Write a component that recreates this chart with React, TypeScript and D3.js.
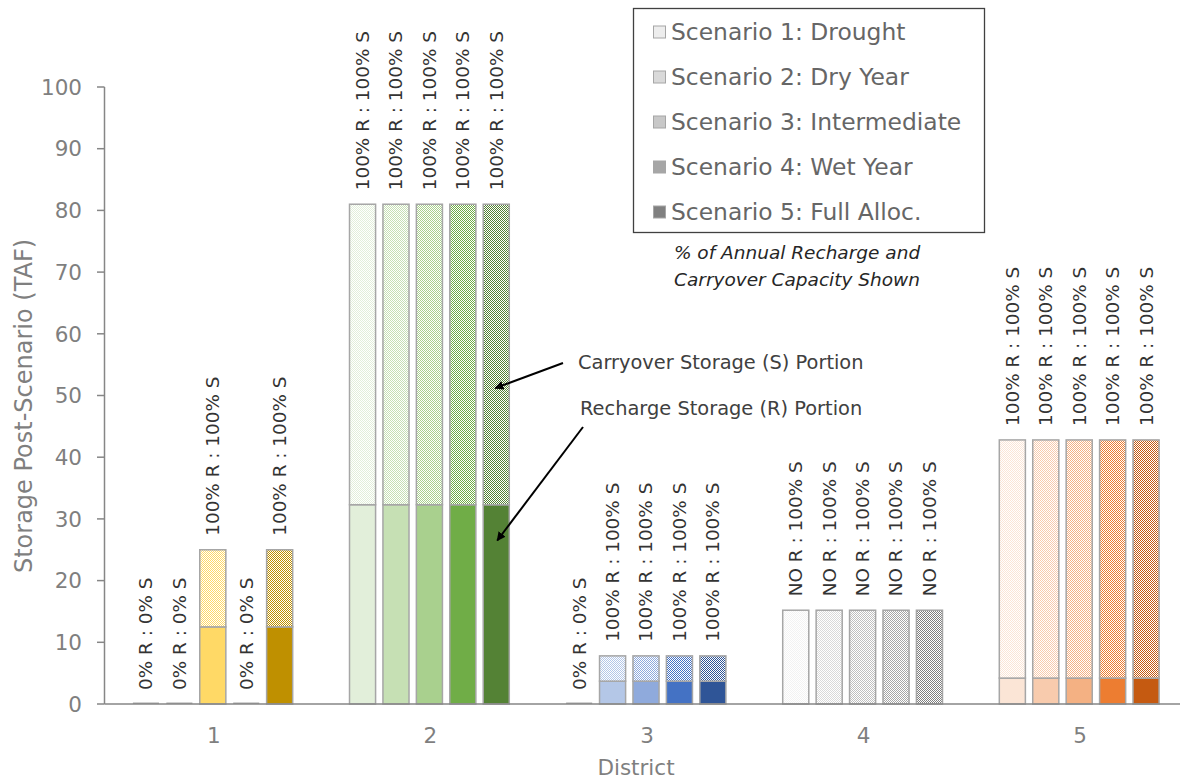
import React from "react";
import * as d3 from "d3";

// Districts along the x axis and the five water-year scenarios shown per district
const districts = ["1", "2", "3", "4", "5"];
const scenarios = [
  "Scenario 1: Drought",
  "Scenario 2: Dry Year",
  "Scenario 3: Intermediate",
  "Scenario 4: Wet Year",
  "Scenario 5: Full Alloc.",
];

// Recharge storage (R) portion, TAF, [district][scenario]
const rechargeTAF = [
  [0, 0, 12.5, 0, 12.5],
  [32.3, 32.3, 32.3, 32.3, 32.3],
  [0, 3.7, 3.7, 3.7, 3.7],
  [0, 0, 0, 0, 0],
  [4.2, 4.2, 4.2, 4.2, 4.2],
];

// Carryover storage (S) portion, TAF, [district][scenario]
const carryoverTAF = [
  [0, 0, 12.5, 0, 12.5],
  [48.7, 48.7, 48.7, 48.7, 48.7],
  [0, 4.1, 4.1, 4.1, 4.1],
  [15.2, 15.2, 15.2, 15.2, 15.2],
  [38.6, 38.6, 38.6, 38.6, 38.6],
];

// Share of annual recharge and carryover capacity used
const shareLabels = [
  ["0% R : 0% S", "0% R : 0% S", "100% R : 100% S", "0% R : 0% S", "100% R : 100% S"],
  ["100% R : 100% S", "100% R : 100% S", "100% R : 100% S", "100% R : 100% S", "100% R : 100% S"],
  ["0% R : 0% S", "100% R : 100% S", "100% R : 100% S", "100% R : 100% S", "100% R : 100% S"],
  ["NO R : 100% S", "NO R : 100% S", "NO R : 100% S", "NO R : 100% S", "NO R : 100% S"],
  ["100% R : 100% S", "100% R : 100% S", "100% R : 100% S", "100% R : 100% S", "100% R : 100% S"],
];

const yTicks = [0, 10, 20, 30, 40, 50, 60, 70, 80, 90, 100];

// Colour ramp per district, light (drought) to dark (full allocation)
const districtColors = [
  ["#FFF2CC", "#FFE699", "#FFD966", "#DDAA00", "#BF9000"],
  ["#E2EFDA", "#C6E0B4", "#A9D08E", "#70AD47", "#548235"],
  ["#DAE3F3", "#B4C7E7", "#8FAADC", "#4472C4", "#2F5597"],
  ["#F2F2F2", "#D9D9D9", "#BFBFBF", "#A6A6A6", "#7F7F7F"],
  ["#FBE5D6", "#F8CBAD", "#F4B183", "#ED7D31", "#C55A11"],
];
const legendColors = ["#EDEDED", "#D9D9D9", "#C8C8C8", "#A6A6A6", "#808080"];

const W = 1180;
const H = 780;
const FONT = "'DejaVu Sans', sans-serif";

export default function App() {
  const x = d3.scaleBand<string>().domain(districts).range([104.5, 1187.5]).padding(0);
  const xi = d3
    .scaleBand<number>()
    .domain(d3.range(scenarios.length))
    .range([0, x.bandwidth()])
    .paddingInner(0.22)
    .paddingOuter(0.85);
  const y = d3.scaleLinear().domain([0, 100]).range([704, 87]);

  const barX = (d: number, s: number) => (x(districts[d]) as number) + (xi(s) as number);
  const bw = xi.bandwidth();

  const strokeGrey = "#A6A6A6";

  const bars: React.ReactNode[] = [];
  const labels: React.ReactNode[] = [];
  districts.forEach((_, d) => {
    scenarios.forEach((__, s) => {
      const r = rechargeTAF[d][s];
      const c = carryoverTAF[d][s];
      const bx = barX(d, s);
      const total = r + c;
      if (total === 0) {
        bars.push(
          <rect key={`z${d}${s}`} x={bx} y={y(0) - 1.5} width={bw} height={1.5} fill="#A6A6A6" />
        );
      } else {
        if (r > 0) {
          bars.push(
            <rect
              key={`r${d}${s}`}
              x={bx}
              y={y(r)}
              width={bw}
              height={y(0) - y(r)}
              fill={districtColors[d][s]}
              stroke={strokeGrey}
              strokeWidth={1.5}
            />
          );
        }
        if (c > 0) {
          bars.push(
            <rect
              key={`c${d}${s}`}
              x={bx}
              y={y(total)}
              width={bw}
              height={y(r) - y(total)}
              fill={`url(#pat-${d}-${s})`}
              stroke={strokeGrey}
              strokeWidth={1.5}
            />
          );
        }
      }
      const lx = bx + bw / 2;
      const ly = y(total) - 14;
      labels.push(
        <text
          key={`l${d}${s}`}
          transform={`translate(${lx},${ly}) rotate(-90)`}
          dy="0.35em"
          fontSize={18.4}
          fill="#333333"
        >
          {shareLabels[d][s]}
        </text>
      );
    });
  });

  // checkerboard pattern fills for the carryover portion
  const patterns: React.ReactNode[] = [];
  districtColors.forEach((cols, d) =>
    cols.forEach((col, s) =>
      patterns.push(
        <pattern
          key={`p${d}${s}`}
          id={`pat-${d}-${s}`}
          width={2}
          height={2}
          patternUnits="userSpaceOnUse"
        >
          <rect width={2} height={2} fill="#FFFFFF" />
          <rect x={0} y={0} width={1} height={1} fill={col} />
          <rect x={1} y={1} width={1} height={1} fill={col} />
        </pattern>
      )
    )
  );

  const axisColor = "#868686";
  const tickColor = "#7F7F7F";

  // annotation arrow targets on district 2, full-allocation bar
  const arrowX = barX(1, 4) + bw / 2;
  const carryTipY = y(51.2);
  const rechargeTipY = y(26.5);

  return (
    <svg
      width={W}
      height={H}
      style={{ position: "absolute", left: 0, top: 0, background: "#fff" }}
      fontFamily={FONT}
    >
      <defs>
        {patterns}
        <marker
          id="arrow"
          viewBox="0 0 10 10"
          refX={9}
          refY={5}
          markerWidth={4.5}
          markerHeight={4.5}
          orient="auto"
          markerUnits="strokeWidth"
        >
          <path d="M0,0 L10,5 L0,10 z" fill="#000" />
        </marker>
      </defs>
      <rect width={W} height={H} fill="#fff" />

      {/* y axis */}
      <line x1={104.5} x2={104.5} y1={y(0)} y2={y(100)} stroke={axisColor} strokeWidth={1.5} />
      {yTicks.map((t) => (
        <g key={t}>
          <line x1={97} x2={104.5} y1={y(t)} y2={y(t)} stroke={axisColor} strokeWidth={1.5} />
          <text x={82} y={y(t)} dy="0.36em" textAnchor="end" fontSize={21.5} fill={tickColor}>
            {t}
          </text>
        </g>
      ))}
      <text
        transform={`translate(24,${406}) rotate(-90)`}
        textAnchor="middle"
        dy="0.35em"
        fontSize={24}
        fill={tickColor}
      >
        Storage Post-Scenario (TAF)
      </text>

      {bars}

      {/* x axis baseline */}
      <line x1={104.5} x2={W} y1={y(0)} y2={y(0)} stroke={axisColor} strokeWidth={1.5} />
      {districts.map((dn) => (
        <text
          key={dn}
          x={(x(dn) as number) + x.bandwidth() / 2 + 1}
          y={735.5}
          dy="0.36em"
          textAnchor="middle"
          fontSize={21.5}
          fill={tickColor}
        >
          {dn}
        </text>
      ))}
      <text x={636} y={767.5} dy="0.36em" textAnchor="middle" fontSize={21.5} fill={tickColor}>
        District
      </text>

      {labels}

      {/* legend */}
      <rect x={633.5} y={8.5} width={351} height={224} fill="#fff" stroke="#404040" strokeWidth={1.3} />
      {scenarios.map((s, i) => {
        const cy = 32 + i * 45;
        return (
          <g key={s}>
            <rect
              x={653.5}
              y={cy - 6}
              width={12}
              height={12}
              fill={legendColors[i]}
              stroke="#A6A6A6"
              strokeWidth={1}
            />
            <text x={671} y={cy} dy="0.36em" fontSize={23.4} fill="#666666">
              {s}
            </text>
          </g>
        );
      })}

      {/* note */}
      <text x={797} y={253} dy="0.35em" textAnchor="middle" fontSize={18.5} fontStyle="italic" fill="#262626">
        % of Annual Recharge and
      </text>
      <text x={797} y={280} dy="0.35em" textAnchor="middle" fontSize={18.5} fontStyle="italic" fill="#262626">
        Carryover Capacity Shown
      </text>

      {/* annotations */}
      <text x={578} y={362} dy="0.35em" fontSize={19.4} fill="#404040">
        Carryover Storage (S) Portion
      </text>
      <line
        x1={563}
        y1={363}
        x2={arrowX - 1}
        y2={carryTipY}
        stroke="#000"
        strokeWidth={2}
        markerEnd="url(#arrow)"
      />
      <text x={580} y={408} dy="0.35em" fontSize={19.4} fill="#404040">
        Recharge Storage (R) Portion
      </text>
      <line
        x1={583}
        y1={427}
        x2={arrowX + 1}
        y2={rechargeTipY}
        stroke="#000"
        strokeWidth={2}
        markerEnd="url(#arrow)"
      />
    </svg>
  );
}
